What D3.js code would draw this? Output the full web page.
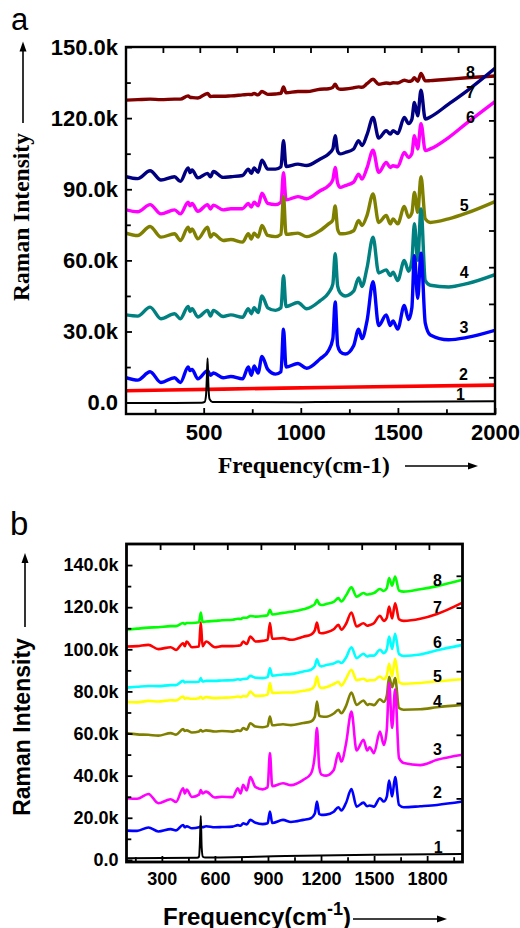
<!DOCTYPE html>
<html>
<head>
<meta charset="utf-8">
<script src="https://cdn.jsdelivr.net/npm/d3@7"></script>
<style>
  body { margin: 0; background: #fff; }
  svg { display: block; }
</style>
</head>
<body>
<svg id="chart" width="520" height="928"></svg>
<script>
// ---------- Panel a: Raman spectra (intensity in thousands of counts) ----------
const freqA = [100, 160, 224, 280, 350, 380, 420, 430, 440, 470, 520, 535, 550, 600, 640, 700,
  730, 745, 760, 780, 800, 830, 870, 898, 911, 924, 985, 1030, 1100, 1143, 1165, 1177, 1190,
  1203, 1229, 1272, 1298, 1315, 1341, 1372, 1401, 1440, 1461, 1475, 1499, 1533, 1555, 1572,
  1585, 1602, 1619, 1641, 1667, 1761, 1856, 2000];

const a3 = [10.5, 9.5, 13, 8.5, 10.5, 8.5, 15, 13.5, 14, 10, 13.5, 11.5, 12.5, 10.5, 11, 10,
  15, 11.5, 15.5, 12.5, 19.5, 14, 12, 13, 31, 15, 16.5, 14.5, 18.5, 22, 27, 42.5, 24,
  21.5, 20.5, 24, 31, 27, 34.5, 51, 32.5, 37, 32.5, 34.5, 31, 41, 35, 40,
  62, 44, 63, 33.5, 28.5, 26.5, 27.5, 30.5];
const a4 = [37, 36.5, 40.3, 35.4, 37.5, 35.4, 40.6, 38.5, 39.6, 36.1, 38.9, 36.5, 38.9, 36.3, 37, 36,
  39.6, 37.5, 40, 38, 45, 40, 38.9, 40, 53.5, 40.5, 42.2, 39.6, 43, 46.3, 50, 62.8, 49,
  46.3, 45, 47, 52.6, 49, 56.8, 69.8, 54.7, 56, 53.6, 55, 51.5, 60, 55.4, 60,
  75.5, 60, 81.7, 51.5, 49.5, 48.8, 50.2, 54];
const a5 = [71.5, 70.5, 74.3, 69.8, 71.2, 68.4, 74, 72, 73.3, 69.1, 74, 69.8, 71.2, 68.4, 68.8, 67.7,
  71.2, 69, 71.5, 69.8, 74.7, 70.5, 70, 71, 87, 71, 71.5, 70, 72.6, 75.4, 77, 83, 73,
  71.2, 71.3, 72.5, 76.8, 74.7, 79, 88, 76, 78.9, 75.4, 77.5, 75.4, 82.7, 78.2, 80,
  88.7, 80.3, 95.3, 77.5, 76, 77.5, 80, 84.8];
const a6 = [81.3, 80.5, 83.5, 79.6, 81.3, 79.6, 84.5, 83, 84, 80.7, 83.5, 81.7, 83.3, 81.3, 81.8, 81.8,
  84, 82.5, 84.5, 83, 88.3, 84, 83.5, 84.5, 97, 85.5, 86.9, 86, 89.4, 91.5, 94, 99.2, 92.5,
  90.8, 91.5, 93, 96.4, 94.3, 99, 106.5, 97.1, 101.3, 99.2, 99.9, 99.5, 105.5, 103.4, 105,
  112.6, 107, 117.7, 106.3, 107, 111.8, 118, 127];
const a7 = [95.3, 94.5, 97.8, 93.9, 95.3, 93.3, 99, 97, 98.1, 94.8, 96.7, 95.3, 97.5, 95, 95.3, 95.8,
  98.5, 96.7, 99, 97.2, 102.3, 98.5, 98.5, 99.5, 110.5, 99.6, 100.6, 100, 102.8, 104.9, 107, 112.6, 106,
  104.9, 105.5, 107, 110.5, 108.4, 113, 120.3, 111.6, 114.7, 113.3, 114.7, 113.5, 120.3, 117.7, 119.5,
  126.6, 121, 131.8, 119.6, 120.5, 125.9, 131.5, 141];
const a8 = [127.6, 127.8, 128, 127.8, 128, 128, 129.4, 128.8, 128.7, 128.5, 130.4, 129.1, 129.2, 129.2, 129.4, 129.8,
  130, 129.9, 130.4, 129.8, 131.2, 130, 130.2, 130.5, 133.2, 130.7, 131.2, 131.2, 132.2, 132.4, 133, 134.3, 132.6,
  132.2, 132.3, 132.8, 133.2, 133, 134.5, 136.4, 134.3, 134.8, 134.6, 134.9, 134.8, 136, 135.5, 135.8,
  137.1, 135.5, 138.8, 135.7, 135.8, 136.4, 137, 137.8];
// sample 2: nearly flat, sample 1: silicon band only
const a2 = [[100, 5.0], [600, 5.7], [1200, 6.5], [2000, 7.4]];
const a1 = [[100, -0.2], [490, -0.1], [505, 0.3], [512, 3], [516, 10], [520, 18.7], [524, 8],
  [530, 1.5], [545, 0.3], [1000, 0.2], [1500, 0.4], [2000, 0.6]];

// ---------- Panel b ----------
const freqB = [100, 160, 224, 280, 350, 380, 420, 430, 440, 470, 510, 520, 530, 550, 600, 640, 700,
  730, 745, 760, 780, 800, 830, 870, 898, 911, 924, 985, 1030, 1100, 1143, 1165, 1177, 1190,
  1203, 1229, 1272, 1298, 1315, 1341, 1372, 1401, 1440, 1461, 1475, 1499, 1533, 1555, 1572,
  1585, 1602, 1619, 1641, 1667, 1761, 1856, 2000];

const b8 = [109.3, 109.8, 110.3, 110.5, 111, 111, 112.5, 112, 112.5, 112.5, 112.8, 117.5, 113, 113.2, 113.5, 113.8, 114,
  114.5, 114.4, 115, 115, 115.8, 115.5, 115.8, 116.2, 118.8, 116.5, 117.3, 117.8, 119, 120.3, 121.5, 123.5, 121.5,
  121, 121.5, 122.5, 124.3, 122.7, 125.5, 129.4, 125, 126.7, 126, 126.2, 126.7, 128.6, 127.7, 129,
  133.8, 130.2, 134.6, 127.9, 127.4, 128.5, 130, 133];
const b7 = [101.3, 101.5, 102.1, 100.1, 101, 99.7, 102.9, 101.5, 103.7, 101, 101.3, 112.7, 101.5, 103.7, 101, 101.5, 101.5,
  101.7, 101.9, 103.7, 102.5, 106, 103.7, 104, 104.5, 112.5, 105, 105.3, 104.5, 106, 107, 109, 112.7, 108,
  107.6, 108, 109.5, 111.6, 109.3, 112, 117.5, 110.8, 112.4, 111.2, 111.5, 112.4, 115.9, 113.5, 115,
  120.3, 114.7, 121.9, 114.3, 113.5, 114.5, 116.8, 122.2];
const b6 = [81.8, 82.2, 82.6, 82.5, 83, 83, 85, 84.3, 84.5, 84.5, 84.6, 86.3, 84.7, 85, 85, 85.2, 85.3,
  85.8, 85.6, 85.9, 86, 87.4, 86.5, 86.3, 86.8, 91, 87.5, 88, 88.2, 89.5, 90.3, 92, 95.3, 92.5,
  91.9, 92.5, 93.3, 94.2, 93.5, 96, 101, 95.8, 97.9, 96.6, 97, 97, 99.8, 98.2, 100,
  106, 100.2, 107.4, 97.8, 96.8, 97.5, 99.5, 102.1];
const b5 = [75, 74.8, 75.5, 75.2, 75.8, 75.7, 77.6, 76.5, 76.8, 76.5, 76.8, 77.5, 76.6, 77.3, 76.8, 77, 77.2,
  77.6, 77.3, 77.8, 77.6, 79.9, 77.9, 78, 78.5, 84, 79.3, 79.5, 79.5, 80.3, 81, 83, 87.1, 82.5,
  81.6, 82, 83.5, 84.6, 82.7, 86, 90.3, 85.3, 86, 85, 85.3, 85.3, 87.1, 85.8, 87.5,
  93.1, 87.1, 95.5, 84.5, 83.6, 84, 84.8, 85.8];
const b4 = [60.2, 59.6, 59.4, 59, 60.2, 59.5, 62.1, 61.2, 61.5, 60.5, 61, 61.7, 61, 61.5, 61, 61.2, 60.9,
  61.5, 61.2, 62.6, 61.8, 64.9, 63.3, 63, 63.5, 68.1, 63.9, 64.4, 64, 65, 65.7, 68, 75.2, 68.5,
  68.1, 68, 69.5, 71.3, 69.6, 73, 79.5, 73.6, 75.7, 73.6, 74, 73.5, 76.3, 75, 78,
  87, 82, 86.3, 72.1, 71.3, 71.5, 72.5, 73.6];
const b3 = [29.3, 29, 31.3, 26.9, 28.8, 27.5, 34, 31.5, 33.4, 29.9, 31, 33.2, 31.5, 32.4, 29.6, 30, 29.8,
  34, 31.5, 35.6, 33, 39.3, 34.5, 33.5, 34.5, 50.7, 35, 36.4, 35.5, 38, 41, 50, 62.6, 44,
  40.5, 40, 42.7, 50.7, 46.7, 55, 70.4, 52, 57, 52, 53.5, 50.7, 60.9, 54.6, 62,
  84, 62.6, 81, 48.3, 46, 45, 47.5, 49.9];
const b2 = [13.9, 13.8, 15.4, 13.5, 14.6, 14, 16.6, 15.5, 16, 15, 15.5, 15.9, 15.5, 16, 15.5, 15.6, 15.8,
  16.5, 16.2, 17.4, 16.8, 19, 17.6, 17, 17.4, 22.9, 17.5, 19, 18, 19, 19.8, 22, 27.7, 21.8,
  21.4, 21.5, 22.9, 25, 23.5, 27, 33.6, 25.3, 27.2, 25.5, 25.8, 25.3, 29.3, 27.7, 30,
  37.7, 30.1, 39.3, 26.1, 25, 25.5, 26.1, 27.7];
const b1 = [[100, 0.8], [500, 1.0], [510, 1.5], [515, 8], [520, 20.9], [525, 6], [532, 1.5],
  [545, 1.1], [1000, 1.8], [1500, 2.4], [2000, 2.8]];

// axis tick values (cm-1 and thousands of counts)
const xMajorA = [500, 1000, 1500, 2000];
const xMinorA = [250, 750, 1250, 1750];
const yMajorA = [0, 30, 60, 90, 120, 150];
const yMinorA = [15, 45, 75, 105, 135];
const xMajorB = [300, 600, 900, 1200, 1500, 1800];
const xMinorB = [150, 450, 750, 1050, 1350, 1650, 1950];
const yMajorB = [0, 20, 40, 60, 80, 100, 120, 140];
const yMinorB = [10, 30, 50, 70, 90, 110, 130];

// sample numbers and where they sit (cm-1, thousands of counts)
const tagsA = [["8", 1873, 137], ["7", 1873, 128.5], ["6", 1873, 117.9], ["5", 1842, 81],
  ["4", 1842, 52.4], ["3", 1840, 29.2], ["2", 1837, 9.5], ["1", 1822, 1.05]];
const tagsB = [["8", 1859, 130.2], ["7", 1859, 117.2], ["6", 1859, 100.7], ["5", 1859, 84.7],
  ["4", 1859, 72.8], ["3", 1859, 49.9], ["2", 1859, 29.5], ["1", 1862, 3.2]];

const zip = (xs, ys) => xs.map((f, i) => [f, ys[i]]);
const svg = d3.select("#chart");
const fmtK = v => v === 0 ? "0.0" : d3.format(".1f")(v) + "k";

function arrowUp(x, yTip, yTail) {
  svg.append("line").attr("x1", x).attr("x2", x).attr("y1", yTail).attr("y2", yTip + 8)
    .attr("stroke", "#000").attr("stroke-width", 1.6);
  svg.append("path").attr("d", `M${x},${yTip} L${x - 3.5},${yTip + 10} L${x + 3.5},${yTip + 10} Z`).attr("fill", "#000");
}
function arrowRight(y, xTail, xTip) {
  svg.append("line").attr("x1", xTail).attr("x2", xTip - 8).attr("y1", y).attr("y2", y)
    .attr("stroke", "#000").attr("stroke-width", 1.6);
  svg.append("path").attr("d", `M${xTip},${y} L${xTip - 10},${y - 3.5} L${xTip - 10},${y + 3.5} Z`).attr("fill", "#000");
}

function drawPanel(p) {
  const x = d3.scaleLinear().domain([100, 2000]).range([p.left, p.right]);
  const y = d3.scaleLinear().domain(p.yDomain).range([p.bottom, p.top]);
  const g = svg.append("g");

  const clipId = "clip-" + p.name;
  g.append("clipPath").attr("id", clipId).append("rect")
    .attr("x", p.left).attr("y", p.top).attr("width", p.right - p.left).attr("height", p.bottom - p.top);

  const line = d3.line().x(d => x(d[0])).y(d => y(d[1])).curve(d3.curveMonotoneX);
  const lines = g.append("g").attr("clip-path", `url(#${clipId})`);
  p.series.forEach(s => {
    lines.append("path").datum(s.pts).attr("d", line)
      .attr("fill", "none").attr("stroke", s.color).attr("stroke-width", s.width)
      .attr("stroke-linejoin", "round").attr("stroke-linecap", "round");
  });

  const font = "'Liberation Sans', Arial, sans-serif";
  const styleAxis = (sel, labels) => {
    sel.select(".domain").remove();
    sel.selectAll(".tick line").attr("stroke", "#000").attr("stroke-width", 1.8);
    sel.selectAll(".tick text").attr("fill", "#000").attr("font-family", font)
      .attr("font-weight", "bold").attr("font-size", p.tickFont);
    if (!labels) sel.selectAll(".tick text").remove();
  };

  // bottom & left: labelled major ticks and unlabelled minor ticks, all pointing inward
  g.append("g").attr("transform", `translate(0,${p.bottom})`)
    .call(d3.axisBottom(x).tickValues(p.xMajor).tickSize(-p.tick).tickPadding(p.xPad).tickFormat(d3.format("d")))
    .call(s => styleAxis(s, true));
  g.append("g").attr("transform", `translate(0,${p.bottom})`)
    .call(d3.axisBottom(x).tickValues(p.xMinor).tickSize(-p.tick * 0.8))
    .call(s => styleAxis(s, false));
  g.append("g").attr("transform", `translate(${p.left},0)`)
    .call(d3.axisLeft(y).tickValues(p.yMajor).tickSize(-p.tick).tickPadding(p.yPad).tickFormat(fmtK))
    .call(s => styleAxis(s, true));
  g.append("g").attr("transform", `translate(${p.left},0)`)
    .call(d3.axisLeft(y).tickValues(p.yMinor).tickSize(-p.tick * 0.8))
    .call(s => styleAxis(s, false));

  // top & right: ten equal divisions, unlabelled
  const topVals = d3.range(1, 10).map(i => x.invert(p.left + i * (p.right - p.left) / 10));
  const rightVals = d3.range(1, 10).map(i => y.invert(p.bottom - i * (p.bottom - p.top) / 10));
  g.append("g").attr("transform", `translate(0,${p.top})`)
    .call(d3.axisTop(x).tickValues(topVals).tickSize(-p.tick))
    .call(s => styleAxis(s, false));
  g.append("g").attr("transform", `translate(${p.right},0)`)
    .call(d3.axisRight(y).tickValues(rightVals).tickSize(-p.tick))
    .call(s => styleAxis(s, false));

  // frame
  g.append("rect").attr("x", p.left).attr("y", p.top)
    .attr("width", p.right - p.left).attr("height", p.bottom - p.top)
    .attr("fill", "none").attr("stroke", "#000").attr("stroke-width", p.frame);

  // sample numbers
  g.selectAll("text.tag").data(p.tags).join("text").attr("class", "tag")
    .attr("x", d => x(d[1])).attr("y", d => y(d[2]))
    .attr("text-anchor", "middle").attr("font-family", font).attr("font-weight", "bold")
    .attr("font-size", 16).attr("fill", "#000").text(d => d[0]);
}

// ---------- panel a ----------
drawPanel({
  name: "a", left: 126, right: 495, top: 47, bottom: 414, yDomain: [-4.8, 150],
  xMajor: xMajorA, xMinor: xMinorA, yMajor: yMajorA, yMinor: yMinorA,
  tick: 6, frame: 2.4, tickFont: 22, xPad: 10, yPad: 8, tags: tagsA,
  series: [
    { pts: zip(freqA, a8), color: "#800000", width: 3.4 },
    { pts: zip(freqA, a7), color: "#000080", width: 3.4 },
    { pts: zip(freqA, a6), color: "#ff00ff", width: 3.4 },
    { pts: zip(freqA, a5), color: "#808000", width: 3.4 },
    { pts: zip(freqA, a4), color: "#008080", width: 3.4 },
    { pts: zip(freqA, a3), color: "#0000ff", width: 3.4 },
    { pts: a2, color: "#ff0000", width: 3.6 },
    { pts: a1, color: "#000000", width: 2 }
  ]
});

// ---------- panel b ----------
drawPanel({
  name: "b", left: 126.5, right: 462.5, top: 544, bottom: 862, yDomain: [-1, 150],
  xMajor: xMajorB, xMinor: xMinorB, yMajor: yMajorB, yMinor: yMinorB,
  tick: 6, frame: 2.8, tickFont: 18, xPad: 10, yPad: 8, tags: tagsB,
  series: [
    { pts: zip(freqB, b8), color: "#00ff00", width: 2.6 },
    { pts: zip(freqB, b7), color: "#ff0000", width: 2.6 },
    { pts: zip(freqB, b6), color: "#00ffff", width: 2.6 },
    { pts: zip(freqB, b5), color: "#ffff00", width: 2.6 },
    { pts: zip(freqB, b4), color: "#808000", width: 2.6 },
    { pts: zip(freqB, b3), color: "#ff00ff", width: 2.6 },
    { pts: zip(freqB, b2), color: "#0000ff", width: 2.6 },
    { pts: b1, color: "#000000", width: 2 }
  ]
});

// ---------- titles ----------
const serif = "'Liberation Serif', 'Times New Roman', serif";
const sans = "'Liberation Sans', Arial, sans-serif";

svg.append("text").attr("x", 11).attr("y", 30).attr("font-family", sans)
  .attr("font-size", 31).attr("fill", "#000").text("a");
svg.append("text").attr("x", 10).attr("y", 535).attr("font-family", sans)
  .attr("font-size", 33).attr("fill", "#000").text("b");

// panel a axis titles
svg.append("text").attr("transform", "translate(29,217) rotate(-90)").attr("text-anchor", "middle")
  .attr("font-family", serif).attr("font-weight", "bold").attr("font-size", 23.5).attr("fill", "#000")
  .text("Raman Intensity");
arrowUp(23, 41.5, 123);
svg.append("text").attr("x", 218).attr("y", 473).attr("font-family", serif)
  .attr("font-weight", "bold").attr("font-size", 23.5).attr("fill", "#000").text("Frequency(cm-1)");
arrowRight(466, 405, 478);

// panel b axis titles
svg.append("text").attr("transform", "translate(29.5,727) rotate(-90)").attr("text-anchor", "middle")
  .attr("font-family", sans).attr("font-weight", "bold").attr("font-size", 23).attr("fill", "#000")
  .text("Raman Intensity");
arrowUp(25, 553, 627);
const xt = svg.append("text").attr("x", 163).attr("y", 925).attr("font-family", sans)
  .attr("font-weight", "bold").attr("font-size", 24).attr("fill", "#000");
xt.append("tspan").text("Frequency(cm");
xt.append("tspan").attr("dy", -10).attr("font-size", 18).text("-1");
xt.append("tspan").attr("dy", 10).text(")");
arrowRight(919, 353, 447);
</script>
</body>
</html>
